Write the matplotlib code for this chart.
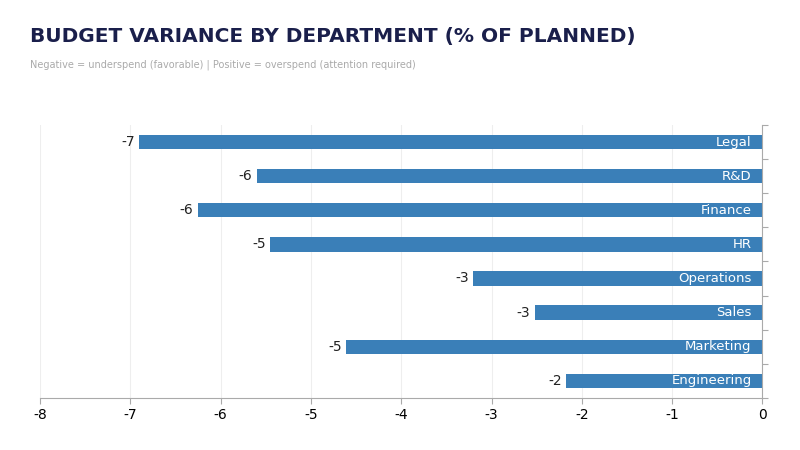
import matplotlib
matplotlib.use("Agg")
import matplotlib.pyplot as plt

plt.rcParams["axes.unicode_minus"] = False

departments = ["Legal", "R&D", "Finance", "HR", "Operations", "Sales", "Marketing", "Engineering"]
variance = [-6.90, -5.60, -6.25, -5.45, -3.20, -2.52, -4.61, -2.17]

fig = plt.figure(figsize=(8, 4.5), dpi=100)
ax = fig.add_axes([0.05, 0.116, 0.903, 0.606])

y = list(range(len(departments)))[::-1]
ax.barh(y, variance, height=0.42, color="#3a7fb8")

for yi, v, name in zip(y, variance, departments):
    ax.text(-0.12, yi, name, ha="right", va="center", color="white", fontsize=9.5)
    ax.text(v - 0.05, yi, f"{round(v):d}", ha="right", va="center", color="#222222", fontsize=10)

ax.set_xlim(-8, 0)
ax.set_ylim(-0.496, 7.467)
ax.set_xticks(range(-8, 1))
ax.yaxis.tick_right()
ax.set_yticks([i + 0.5 for i in range(-1, 8)])
ax.set_yticklabels([])
ax.tick_params(axis="y", length=4, color="#aaaaaa")
ax.tick_params(axis="x", length=4, color="#aaaaaa", labelsize=10)
ax.grid(axis="x", color="#eeeeee", linewidth=0.8)
ax.set_axisbelow(True)
for s in ["top", "left"]:
    ax.spines[s].set_visible(False)
ax.spines["right"].set_color("#aaaaaa")
ax.spines["bottom"].set_color("#aaaaaa")

fig.text(0.038, 0.918, "BUDGET VARIANCE BY DEPARTMENT (% OF PLANNED)", fontsize=14.5,
         fontweight="bold", color="#1a1f4b", va="center")
fig.text(0.038, 0.855, "Negative = underspend (favorable) | Positive = overspend (attention required)",
         fontsize=7, color="#aaaaaa", va="center")

fig.savefig("out.png")
